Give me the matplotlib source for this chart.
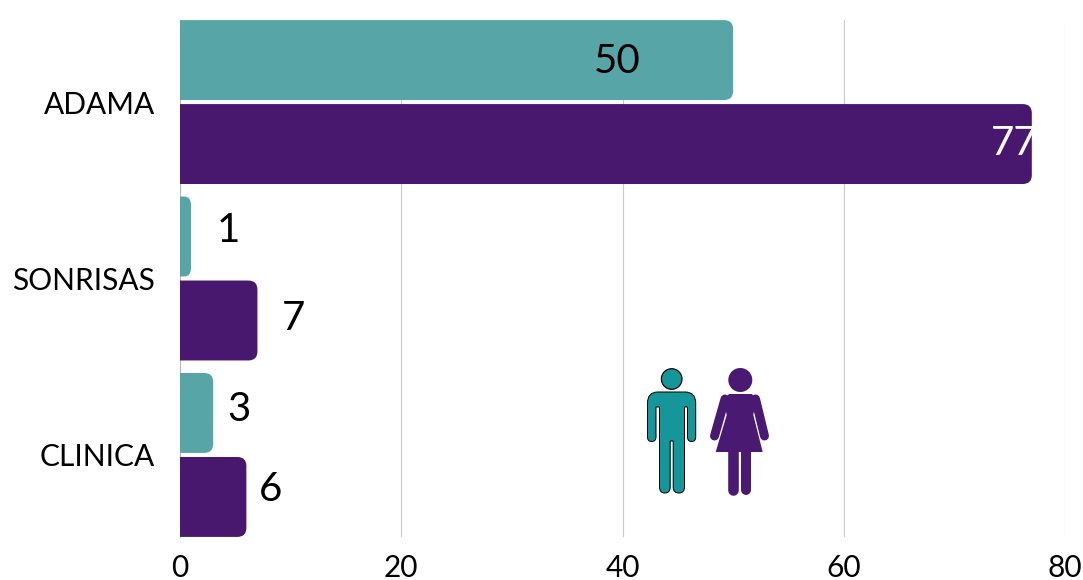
import numpy as np
import matplotlib
matplotlib.use("Agg")
import matplotlib.pyplot as plt
from matplotlib.path import Path
from matplotlib.patches import PathPatch, Circle, Polygon

plt.rcParams['font.family'] = ['Lato', 'DejaVu Sans']

# data
categories = ["ADAMA", "SONRISAS", "CLINICA"]
hombres = [50, 1, 3]
mujeres = [77, 7, 6]
x_ticks = [0, 20, 40, 60, 80]

TEAL = "#57A5A7"
PURPLE = "#47186D"
PX = 72 / 100  # one pixel in points

fig = plt.figure(figsize=(10.83, 5.8), dpi=100)
W, H = 1083, 580
ax = fig.add_axes([180 / W, 1 - 537 / H, (1065 - 180) / W, (537 - 20) / H])
ax.set_xlim(0, 80)
ax.set_ylim(2.465, -0.465)

bar_h = 0.453
off = 0.238
y = np.arange(len(categories))
bars1 = ax.barh(y - off, hombres, height=bar_h, color=TEAL, zorder=3)
bars2 = ax.barh(y + off, mujeres, height=bar_h, color=PURPLE, zorder=3)

# rx, ry = corner radius in data units (about 9 px)
rx = 9 / (885 / 80)
ry = 9 / (517 / (2.465 + 0.465))


def round_bar(rect):
    # swap the plain bar for one with rounded right corners
    x0, y0 = rect.get_x(), rect.get_y()
    w, h = rect.get_width(), rect.get_height()
    r = min(rx, w * 0.6)
    verts = [(x0, y0), (x0 + w - r, y0), (x0 + w, y0), (x0 + w, y0 + ry),
             (x0 + w, y0 + h - ry), (x0 + w, y0 + h), (x0 + w - r, y0 + h),
             (x0, y0 + h), (x0, y0)]
    codes = [Path.MOVETO, Path.LINETO, Path.CURVE3, Path.CURVE3,
             Path.LINETO, Path.CURVE3, Path.CURVE3, Path.LINETO, Path.CLOSEPOLY]
    p = PathPatch(Path(verts, codes), facecolor=rect.get_facecolor(), edgecolor="none", zorder=3)
    rect.remove()
    ax.add_patch(p)
    return p


patches1 = [round_bar(b) for b in list(bars1)]
patches2 = [round_bar(b) for b in list(bars2)]

# value labels: hand placed in the original, offset in px from the bar end
offs1 = [(-116, -1), (37, 6), (26, 3)]
offs2 = [(-18, 1), (36, 2), (24, 7)]
for i in range(len(categories)):
    ax.annotate(str(hombres[i]), (hombres[i], y[i] - off), xytext=(offs1[i][0] * PX, offs1[i][1] * PX),
                textcoords="offset points", ha="center", va="center", fontsize=29, color="black", zorder=5)
    t = ax.annotate(str(mujeres[i]), (mujeres[i], y[i] + off), xytext=(offs2[i][0] * PX, offs2[i][1] * PX),
                    textcoords="offset points", ha="center", va="center", fontsize=29,
                    color="white" if i == 0 else "black", zorder=5)
    if i == 0:
        t.set_clip_path(patches2[0])

ax.set_xticks(x_ticks)
ax.set_yticks(y)
ax.set_yticklabels(categories)
ax.tick_params(axis="both", length=0, labelsize=21.5)
ax.tick_params(axis="x", pad=12)
ax.tick_params(axis="y", pad=18)
ax.grid(axis="x", color="#C8C8C8", linewidth=0.8, zorder=0)
ax.set_axisbelow(True)
for s in ax.spines.values():
    s.set_visible(False)
ax.spines["left"].set_visible(True)
ax.spines["left"].set_color("#B8B8B8")
ax.spines["left"].set_linewidth(0.8)

# pictogram, drawn in figure pixels
ic = fig.add_axes([0, 0, 1, 1], facecolor="none")
ic.set_xlim(0, W)
ic.set_ylim(H, 0)
ic.axis("off")

MAN = "#14969A"
ic.add_patch(Circle((671.7, 379), 10.3, fc=MAN, ec="black", lw=1.2 * PX))
man_v = [(658, 392), (647.5, 392), (647.5, 403), (647.5, 437), (647.5, 441.5), (651.7, 441.5),
         (656, 441.5), (656, 437), (656, 407), (659.5, 407), (659.5, 487), (659.5, 493),
         (664.8, 493), (670.2, 493), (670.2, 487), (670.2, 441), (673.2, 441), (673.2, 487),
         (673.2, 493), (678.8, 493), (684.5, 493), (684.5, 487), (684.5, 407), (687.5, 407),
         (687.5, 437), (687.5, 441.5), (691.6, 441.5), (695.7, 441.5), (695.7, 437), (695.7, 403),
         (695.7, 392), (685, 392), (658, 392)]
man_c = [Path.MOVETO, Path.CURVE3, Path.CURVE3, Path.LINETO, Path.CURVE3, Path.CURVE3,
         Path.CURVE3, Path.CURVE3, Path.LINETO, Path.LINETO, Path.LINETO, Path.CURVE3,
         Path.CURVE3, Path.CURVE3, Path.CURVE3, Path.LINETO, Path.LINETO, Path.LINETO,
         Path.CURVE3, Path.CURVE3, Path.CURVE3, Path.CURVE3, Path.LINETO, Path.LINETO,
         Path.LINETO, Path.CURVE3, Path.CURVE3, Path.CURVE3, Path.CURVE3, Path.LINETO,
         Path.CURVE3, Path.CURVE3, Path.CLOSEPOLY]
ic.add_patch(PathPatch(Path(man_v, man_c), fc=MAN, ec="black", lw=1.0 * PX))

WOMAN = "#4A1A73"
ic.add_patch(Circle((740.3, 380), 12, fc=WOMAN, ec="none"))
ic.add_patch(Polygon([(729, 394), (752, 394), (756, 400), (753.3, 415), (762.7, 452), (715.7, 452),
                      (726.7, 415), (723.5, 400)], closed=True, fc=WOMAN, ec="none"))
# arms and legs as round capped strokes
for xs, ys, w in [([725, 714.5], [399, 436], 9), ([755.5, 764.5], [399, 436], 9),
                  ([733, 733], [450, 490], 10.6), ([745.9, 745.9], [450, 490], 10)]:
    ic.plot(xs, ys, color=WOMAN, lw=w * PX, solid_capstyle="round")

fig.savefig("out.png", dpi=100)
